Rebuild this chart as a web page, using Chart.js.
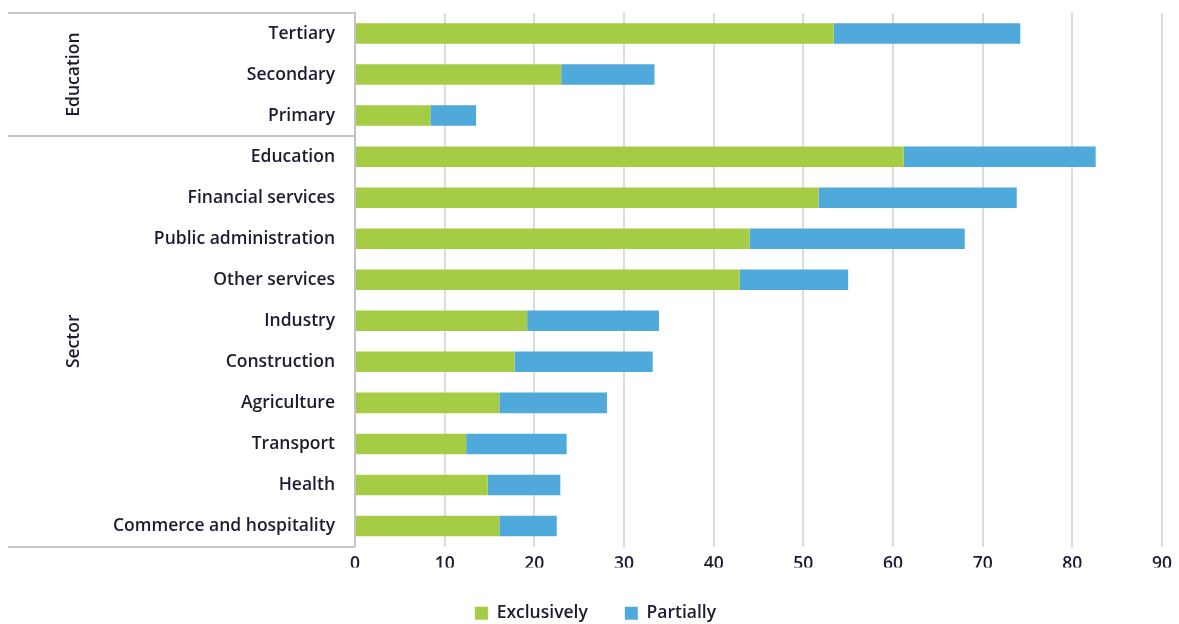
<!DOCTYPE html>
<html>
<head>
<meta charset="utf-8">
<script src="https://cdn.jsdelivr.net/npm/chart.js@4.4.1/dist/chart.umd.min.js"></script>
<style>
html,body{margin:0;padding:0;background:#fff;}
#wrap{width:1179px;height:624px;position:relative;}
</style>
</head>
<body>
<div id="wrap"><canvas id="c" width="1179" height="624"></canvas></div>
<script>
const categories = ["Tertiary","Secondary","Primary","Education","Financial services","Public administration","Other services","Industry","Construction","Agriculture","Transport","Health","Commerce and hospitality"];
const exclusively = [53.4,23.0,8.4,61.2,51.7,44.0,42.9,19.2,17.8,16.1,12.4,14.8,16.1];
const partially   = [20.8,10.4,5.1,21.4,22.1,24.0,12.1,14.7,15.4,12.0,11.2,8.1,6.4];
const groups = [{label:"Education", from:0, to:2},{label:"Sector", from:3, to:12}];
const xTicks = [0,10,20,30,40,50,60,70,80,90];

const FONT = "'Open Sans', sans-serif";
const FS = 17.5;
const TXT = '#1b1b33';

const groupPlugin = {
  id:'groups',
  afterDraw(chart){
    const ctx = chart.ctx, y = chart.scales.y, area = chart.chartArea;
    const lx = 8, rx = area.left;
    ctx.save();
    ctx.strokeStyle = '#c9c9c9';
    ctx.lineWidth = 2;
    const bounds = [];
    groups.forEach((g)=>{
      const top = y.getPixelForValue(g.from - 0.5);
      const bot = y.getPixelForValue(g.to + 0.5);
      bounds.push(top); bounds.push(bot);
      ctx.save();
      ctx.fillStyle = TXT;
      ctx.font = '600 ' + FS + 'px ' + FONT;
      ctx.textAlign = 'center';
      ctx.textBaseline = 'middle';
      ctx.translate(74, (top+bot)/2);
      ctx.rotate(-Math.PI/2);
      ctx.fillText(g.label, 0, 0);
      ctx.restore();
    });
    [...new Set(bounds.map(b=>Math.round(b)))].forEach(b=>{
      ctx.beginPath();
      ctx.moveTo(lx, b);
      ctx.lineTo(rx, b);
      ctx.stroke();
    });
    ctx.restore();
  }
};

new Chart(document.getElementById('c'), {
  type:'bar',
  data:{
    labels: categories,
    datasets:[
      {label:'Exclusively', data: exclusively, backgroundColor:'#a4cd45', borderWidth:0, barPercentage:0.5, categoryPercentage:1},
      {label:'Partially', data: partially, backgroundColor:'#4fa9db', borderWidth:0, barPercentage:0.5, categoryPercentage:1}
    ]
  },
  options:{
    indexAxis:'y',
    responsive:false,
    animation:false,
    devicePixelRatio:1,
    layout:{padding:{left:29,right:17,top:13,bottom:-8}},
    scales:{
      x:{
        stacked:true, min:0, max:90,
        afterBuildTicks(s){ s.ticks = xTicks.map(v=>({value:v})); },
        grid:{color:'#dcdcdc', lineWidth:2, drawTicks:false},
        border:{display:false},
        ticks:{color:TXT, font:{family:FONT, size:FS, weight:'600'}, padding:7},
        afterFit(s){ s.height = 21; s.paddingLeft = 0; s.paddingRight = 0; }
      },
      y:{
        stacked:true,
        grid:{display:false, drawTicks:false},
        border:{display:true, color:'#c4c4c4', width:2},
        ticks:{color:TXT, font:{family:FONT, size:FS, weight:'600'}, padding:20},
        afterFit(s){ s.width = 326; s.paddingTop = 0; s.paddingBottom = 0; }
      }
    },
    plugins:{
      legend:{
        position:'bottom',
        labels:{color:TXT, font:{family:FONT, size:FS, weight:'600'}, boxWidth:13, boxHeight:13, padding:37}
      },
      tooltip:{enabled:false}
    }
  },
  plugins:[groupPlugin]
});
</script>
</body>
</html>
